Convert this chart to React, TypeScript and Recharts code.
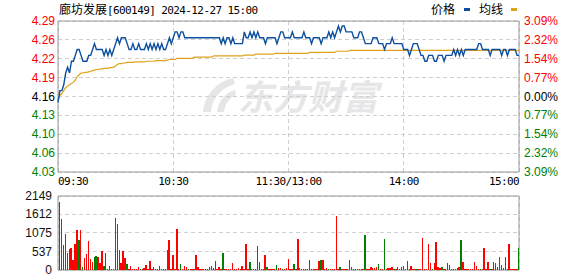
import React from 'react';
import {
  LineChart,
  Line,
  BarChart,
  Bar,
  Cell,
  XAxis,
  YAxis,
  CartesianGrid,
  ReferenceArea,
} from 'recharts';

const stockName = '廊坊发展';
const stockInfo = '[600149] 2024-12-27 15:00';
const watermark = '东方财富';
const prevClose = 4.16;
const pctTicks = [3.09, 2.32, 1.54, 0.77, 0, -0.77, -1.54, -2.32, -3.09];
const timeTickMinutes = [0, 60, 120, 180, 240];
const timeLabels = ['09:30', '10:30', '11:30/13:00', '14:00', '15:00'];
const volTicks = [0, 537, 1075, 1612, 2149];

// one value per minute, 09:30 .. 15:00 (241 points)
const price = [
  4.15, 4.17, 4.17, 4.18, 4.20, 4.21, 4.20, 4.22, 4.22, 4.23,
  4.24, 4.24, 4.23, 4.22, 4.22, 4.22, 4.23, 4.23, 4.24, 4.25,
  4.24, 4.24, 4.24, 4.24, 4.23, 4.24, 4.23, 4.24, 4.23, 4.24,
  4.25, 4.26, 4.25, 4.26, 4.26, 4.26, 4.25, 4.24, 4.24, 4.25,
  4.24, 4.24, 4.25, 4.24, 4.24, 4.24, 4.25, 4.24, 4.25, 4.24,
  4.25, 4.24, 4.25, 4.24, 4.25, 4.24, 4.24, 4.25, 4.26, 4.25,
  4.26, 4.27, 4.27, 4.26, 4.27, 4.27, 4.26, 4.26, 4.26, 4.26,
  4.26, 4.26, 4.26, 4.26, 4.26, 4.26, 4.26, 4.26, 4.26, 4.26,
  4.26, 4.26, 4.26, 4.26, 4.26, 4.25, 4.26, 4.25, 4.26, 4.26,
  4.25, 4.26, 4.25, 4.25, 4.25, 4.25, 4.25, 4.27, 4.26, 4.26,
  4.27, 4.26, 4.27, 4.26, 4.27, 4.26, 4.26, 4.26, 4.25, 4.26,
  4.26, 4.26, 4.26, 4.26, 4.25, 4.26, 4.27, 4.27, 4.26, 4.26,
  4.26, 4.26, 4.27, 4.26, 4.26, 4.26, 4.26, 4.26, 4.27, 4.26,
  4.26, 4.26, 4.25, 4.26, 4.26, 4.26, 4.26, 4.25, 4.26, 4.26,
  4.26, 4.27, 4.26, 4.27, 4.26, 4.27, 4.28, 4.27, 4.28, 4.28,
  4.27, 4.27, 4.27, 4.27, 4.26, 4.26, 4.26, 4.27, 4.27, 4.26,
  4.25, 4.25, 4.25, 4.25, 4.26, 4.26, 4.26, 4.25, 4.25, 4.25,
  4.24, 4.25, 4.25, 4.25, 4.26, 4.25, 4.25, 4.25, 4.25, 4.25,
  4.24, 4.24, 4.24, 4.23, 4.24, 4.25, 4.25, 4.25, 4.24, 4.23,
  4.23, 4.22, 4.22, 4.23, 4.23, 4.23, 4.22, 4.22, 4.23, 4.23,
  4.23, 4.22, 4.23, 4.23, 4.23, 4.23, 4.24, 4.23, 4.24, 4.23,
  4.24, 4.23, 4.24, 4.24, 4.24, 4.24, 4.24, 4.24, 4.24, 4.25,
  4.25, 4.24, 4.24, 4.24, 4.24, 4.23, 4.24, 4.24, 4.24, 4.24,
  4.24, 4.23, 4.24, 4.24, 4.23, 4.24, 4.24, 4.24, 4.24, 4.23,
  4.23,
];

const avgPrice = [
  4.155, 4.162, 4.165, 4.170, 4.175, 4.178, 4.180, 4.182, 4.184, 4.188,
  4.194, 4.197, 4.200, 4.200, 4.201, 4.201, 4.202, 4.203, 4.204, 4.205,
  4.206, 4.206, 4.207, 4.207, 4.208, 4.208, 4.208, 4.209, 4.209, 4.210,
  4.212, 4.215, 4.216, 4.216, 4.217, 4.217, 4.218, 4.218, 4.218, 4.218,
  4.219, 4.219, 4.219, 4.219, 4.219, 4.219, 4.220, 4.220, 4.220, 4.220,
  4.220, 4.221, 4.221, 4.221, 4.221, 4.221, 4.221, 4.222, 4.223, 4.223,
  4.223, 4.223, 4.225, 4.225, 4.225, 4.225, 4.225, 4.225, 4.225, 4.225,
  4.225, 4.227, 4.227, 4.227, 4.227, 4.227, 4.227, 4.227, 4.227, 4.227,
  4.227, 4.229, 4.229, 4.229, 4.229, 4.229, 4.229, 4.229, 4.229, 4.229,
  4.229, 4.229, 4.229, 4.229, 4.229, 4.229, 4.229, 4.2305, 4.2305, 4.2305,
  4.2305, 4.2305, 4.2305, 4.232, 4.232, 4.232, 4.232, 4.232, 4.232, 4.232,
  4.232, 4.232, 4.232, 4.2335, 4.2335, 4.2335, 4.2335, 4.2335, 4.2335, 4.2335,
  4.2335, 4.2335, 4.2335, 4.2335, 4.2335, 4.2335, 4.2335, 4.2335, 4.2335, 4.2335,
  4.2335, 4.235, 4.235, 4.235, 4.235, 4.235, 4.235, 4.235, 4.235, 4.235,
  4.235, 4.235, 4.235, 4.235, 4.235, 4.237, 4.237, 4.237, 4.237, 4.237,
  4.237, 4.237, 4.2385, 4.2385, 4.2385, 4.2385, 4.2385, 4.2385, 4.2385, 4.2385,
  4.2385, 4.2385, 4.2385, 4.2385, 4.2385, 4.2385, 4.2385, 4.2385, 4.2385, 4.2385,
  4.2385, 4.2385, 4.2385, 4.2385, 4.2385, 4.2385, 4.2385, 4.2385, 4.2385, 4.2385,
  4.2385, 4.2385, 4.2385, 4.2385, 4.2385, 4.2385, 4.2385, 4.2385, 4.2385, 4.2385,
  4.2385, 4.2385, 4.2385, 4.2385, 4.2385, 4.2385, 4.2385, 4.2385, 4.2385, 4.2385,
  4.2385, 4.2385, 4.2385, 4.2385, 4.2385, 4.2385, 4.2385, 4.2385, 4.2385, 4.2385,
  4.2385, 4.2385, 4.2385, 4.2385, 4.2385, 4.2385, 4.2385, 4.2385, 4.2385, 4.2385,
  4.2385, 4.2385, 4.2385, 4.2385, 4.2385, 4.2385, 4.2385, 4.2385, 4.2385, 4.2385,
  4.2385, 4.2385, 4.2385, 4.2385, 4.2385, 4.2385, 4.2385, 4.2385, 4.2385, 4.2385,
  4.2385,
];

const volume = [
  0, 1975, 1481, 726, 1045, 484, 610, 639, 290, 755,
  1162, 871, 1162, 77, 348, 465, 842, 319, 223, 368,
  406, 378, 203, 552, 106, 484, 39, 106, 39, 29,
  1510, 1336, 581, 203, 561, 348, 174, 29, 116, 29,
  29, 19, 87, 29, 19, 48, 145, 19, 261, 29,
  87, 29, 29, 116, 29, 29, 29, 581, 871, 29,
  436, 19, 1190, 19, 174, 19, 116, 77, 29, 29,
  29, 29, 436, 87, 29, 29, 29, 29, 29, 87,
  116, 48, 261, 29, 87, 29, 494, 29, 29, 29,
  29, 203, 29, 29, 58, 29, 116, 29, 755, 29,
  232, 29, 29, 29, 697, 232, 29, 29, 436, 87,
  29, 29, 29, 29, 145, 58, 48, 29, 29, 58,
  319, 29, 29, 174, 29, 900, 58, 29, 29, 29,
  29, 290, 29, 29, 29, 29, 261, 290, 290, 29,
  58, 29, 29, 29, 29, 1568, 29, 87, 29, 29,
  29, 29, 290, 87, 29, 29, 29, 29, 29, 29,
  1016, 29, 29, 87, 58, 58, 87, 174, 29, 29,
  900, 29, 58, 58, 87, 29, 29, 87, 29, 87,
  116, 29, 261, 29, 116, 29, 29, 29, 29, 29,
  929, 29, 29, 755, 203, 29, 203, 813, 87, 58,
  87, 29, 29, 203, 145, 29, 29, 29, 58, 87,
  871, 232, 29, 29, 29, 29, 29, 232, 116, 29,
  29, 29, 639, 29, 232, 29, 29, 232, 203, 87,
  378, 145, 58, 378, 29, 755, 29, 29, 29, 29,
  639,
];

// minutes whose volume bar is drawn green (down ticks)
const downMinutes = [
  6, 11, 13, 19, 20, 24, 27, 29, 32, 36, 43, 50, 53, 54, 64, 68, 86, 100, 104,
  109, 114, 117, 123, 129, 132, 137, 141, 147, 154, 160, 167, 170, 175, 180,
  187, 195, 200, 206, 208, 210, 220, 225, 231, 234, 240,
];

const UP = '#ff0000';
const DOWN = '#008000';
const FLAT = '#000000';
const PRICE_COLOR = '#0c4ea0';
const AVG_COLOR = '#dfa21a';
const GRID = '#cfcfcf';
const FRAME = '#999999';
const MARK = '#e6e6e8';
const NUM_FONT = '"Liberation Sans", Arial, sans-serif';
const MONO_FONT = '"DejaVu Sans Mono", monospace';
const CJK_FONT = '"Noto Sans CJK SC", sans-serif';

const yMin = prevClose * (1 + pctTicks[pctTicks.length - 1] / 100);
const yMax = prevClose * (1 + pctTicks[0] / 100);
const yTicks = pctTicks.map((p) => prevClose * (1 + p / 100));

const lineData = price.map((p, i) => ({ m: i, price: p, avg: avgPrice[i] }));
const downSet = new Set(downMinutes);
const volData = volume.map((v, i) => ({ m: i, vol: v }));

const colorFor = (pct: number) => (pct > 0.001 ? UP : pct < -0.001 ? DOWN : FLAT);

const PriceTick = (props: any) => {
  const { x, y, payload } = props;
  const pct = (payload.value / prevClose - 1) * 100;
  return (
    <text x={x} y={y} dy={4} textAnchor="end" fill={colorFor(pct)} fontSize={12} fontFamily={NUM_FONT}>
      {payload.value.toFixed(2)}
    </text>
  );
};

const PctTick = (props: any) => {
  const { x, y, payload } = props;
  const pct = (payload.value / prevClose - 1) * 100;
  return (
    <text x={x} y={y} dy={4} textAnchor="start" fill={colorFor(pct)} fontSize={12} fontFamily={NUM_FONT}>
      {Math.abs(pct).toFixed(2) + '%'}
    </text>
  );
};

const TimeTick = (props: any) => {
  const { x, y, payload } = props;
  const idx = timeTickMinutes.indexOf(payload.value);
  const anchor = idx === 0 ? 'start' : idx === timeLabels.length - 1 ? 'end' : 'middle';
  return (
    <text x={x} y={y} dy={13} textAnchor={anchor} fill="#000" fontSize={11} letterSpacing={-0.6} fontFamily={MONO_FONT}>
      {timeLabels[idx]}
    </text>
  );
};

const VolTick = (props: any) => {
  const { x, y, payload } = props;
  return (
    <text x={x} y={y} dy={4} textAnchor="end" fill="#111" fontSize={12} fontFamily={NUM_FONT}>
      {payload.value}
    </text>
  );
};

export default function App() {
  return (
    <div style={{ position: 'fixed', left: 0, top: 0, width: 578, height: 276, background: '#fff', overflow: 'hidden' }}>
      <style>{`
        .recharts-cartesian-grid line, .frame rect, .recharts-bar-rectangle path { shape-rendering: crispEdges; }
      `}</style>

      {/* watermark logo */}
      <svg width={40} height={40} style={{ position: 'absolute', left: 199, top: 76 }}>
        <path d="M34 2 C18 6 6 18 4 36 L12 36 C13 22 22 12 36 8 Z" fill={MARK} />
        <path d="M36 14 C26 17 19 25 18 36 L25 36 C26 28 30 22 37 19 Z" fill={MARK} />
      </svg>
      <div
        style={{
          position: 'absolute', left: 238, top: 76, fontFamily: CJK_FONT, fontSize: 35, lineHeight: '38px',
          fontWeight: 700, fontStyle: 'italic', color: MARK, whiteSpace: 'nowrap',
        }}
      >
        {watermark}
      </div>

      <div style={{ position: 'absolute', left: 59, top: 1, height: 16, lineHeight: '16px', whiteSpace: 'nowrap', color: '#000' }}>
        <span style={{ fontFamily: CJK_FONT, fontSize: 12 }}>{stockName}</span>
        <span style={{ fontFamily: MONO_FONT, fontSize: 11, letterSpacing: -0.6 }}>{stockInfo}</span>
      </div>

      <div style={{ position: 'absolute', left: 431, top: 1, height: 16, lineHeight: '16px', whiteSpace: 'nowrap', fontFamily: CJK_FONT, fontSize: 12, color: '#000' }}>
        <span>价格</span>
        <span style={{ display: 'inline-block', width: 6, height: 3, background: PRICE_COLOR, margin: '0 9px 2px 9px', verticalAlign: 'middle' }} />
        <span>均线</span>
        <span style={{ display: 'inline-block', width: 6, height: 3, background: AVG_COLOR, margin: '0 0 2px 8px', verticalAlign: 'middle' }} />
      </div>

      <div style={{ position: 'absolute', left: 0, top: 0 }}>
        <LineChart width={578} height={192} data={lineData} margin={{ top: 21, right: 0, bottom: 0, left: 0 }}>
          <CartesianGrid yAxisId="left" stroke={GRID} strokeDasharray="4 3" />
          <XAxis
            dataKey="m"
            type="number"
            domain={[0, 240]}
            ticks={timeTickMinutes}
            interval={0}
            tickLine={false}
            axisLine={false}
            tickSize={0}
            tickMargin={0}
            height={20}
            tick={<TimeTick />}
          />
          <YAxis
            yAxisId="left"
            domain={[yMin, yMax]}
            ticks={yTicks}
            interval={0}
            allowDataOverflow
            width={58}
            tickLine={false}
            axisLine={false}
            tickSize={0}
            tickMargin={3}
            tick={<PriceTick />}
          />
          <YAxis
            yAxisId="right"
            orientation="right"
            domain={[yMin, yMax]}
            ticks={yTicks}
            interval={0}
            allowDataOverflow
            width={59}
            tickLine={false}
            axisLine={false}
            tickSize={0}
            tickMargin={5}
            tick={<PctTick />}
          />
          <ReferenceArea
            className="frame"
            yAxisId="left"
            x1={0}
            x2={240}
            y1={yMin}
            y2={yMax}
            fill="none"
            stroke={FRAME}
            strokeWidth={1}
          />
          <Line
            yAxisId="left"
            type="linear"
            dataKey="avg"
            stroke={AVG_COLOR}
            strokeWidth={1.2}
            dot={false}
            isAnimationActive={false}
          />
          <Line
            yAxisId="left"
            type="linear"
            dataKey="price"
            stroke={PRICE_COLOR}
            strokeWidth={1.4}
            dot={false}
            isAnimationActive={false}
          />
        </LineChart>
      </div>

      <div style={{ position: 'absolute', left: 0, top: 190 }}>
        <BarChart width={578} height={86} data={volData} margin={{ top: 6, right: 59, bottom: 6, left: 0 }}>
          <CartesianGrid stroke={GRID} strokeDasharray="4 3" />
          <XAxis
            dataKey="m"
            type="number"
            domain={[0, 240]}
            ticks={timeTickMinutes}
            interval={0}
            tick={false}
            tickLine={false}
            axisLine={false}
            height={0}
          />
          <YAxis
            domain={[0, 2149]}
            ticks={volTicks}
            interval={0}
            allowDataOverflow
            width={58}
            tickLine={false}
            axisLine={false}
            tickSize={0}
            tickMargin={6}
            tick={<VolTick />}
          />
          <ReferenceArea
            className="frame"
            x1={0}
            x2={240}
            y1={0}
            y2={2149}
            fill="none"
            stroke={FRAME}
            strokeWidth={1}
          />
          <Bar dataKey="vol" barSize={1.4} isAnimationActive={false}>
            {volData.map((d) => (
              <Cell key={d.m} fill={downSet.has(d.m) ? DOWN : UP} />
            ))}
          </Bar>
        </BarChart>
      </div>
    </div>
  );
}
